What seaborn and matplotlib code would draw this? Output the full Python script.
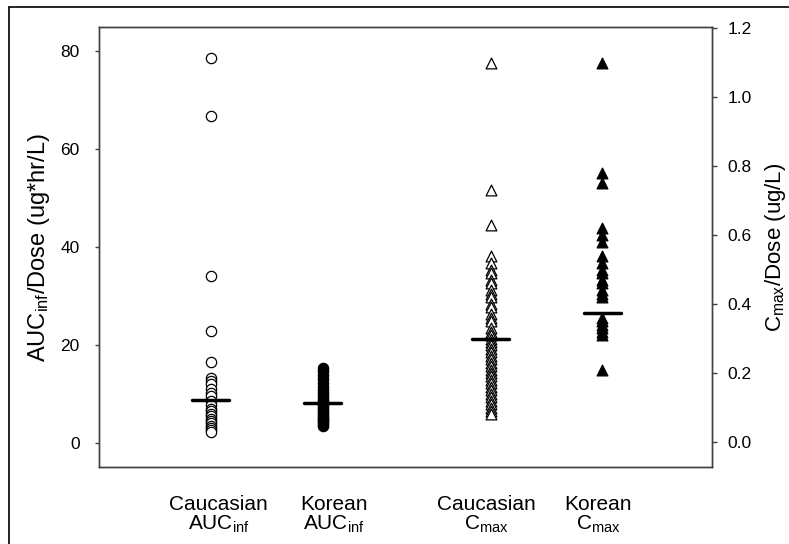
# plot.py
# Dose-normalised AUC and Cmax, Caucasian vs Korean subjects (dot plot with centre lines)

import matplotlib
matplotlib.use('Agg')
import pandas as pd
import matplotlib.pyplot as plt
from matplotlib.lines import Line2D
import seaborn as sns

# data
cauc_auc = [78.6, 66.7, 34.1, 22.9, 16.5, 13.2, 12.6, 12.0, 11.0, 10.2, 9.5, 8.5,
            7.8, 7.0, 6.5, 6.0, 5.5, 5.0, 4.5, 4.0, 3.5, 3.0, 2.6, 2.3]
kor_auc = [15.3, 14.6, 13.8, 13.0, 12.2, 11.5, 10.8, 10.2, 9.6, 9.0, 8.5, 8.0,
           7.5, 7.0, 6.6, 6.2, 5.8, 5.4, 5.0, 4.6, 4.2, 3.8, 3.4]
cauc_cmax = [1.10, 0.73, 0.63, 0.54, 0.52, 0.50, 0.49, 0.47, 0.46, 0.44, 0.43, 0.42,
             0.40, 0.39, 0.37, 0.36, 0.35, 0.33, 0.32, 0.31, 0.30, 0.29, 0.28, 0.27,
             0.26, 0.25, 0.24, 0.23, 0.22, 0.21, 0.20, 0.19, 0.18, 0.17, 0.16, 0.15,
             0.14, 0.13, 0.12, 0.11, 0.10, 0.09, 0.08]
kor_cmax = [1.10, 0.78, 0.75, 0.62, 0.60, 0.58, 0.54, 0.52, 0.50, 0.49, 0.47, 0.46,
            0.44, 0.43, 0.42, 0.36, 0.35, 0.34, 0.33, 0.32, 0.31, 0.21]

# centre line value per group
auc_centre = [8.8, 8.2]
cmax_centre = [0.30, 0.374]

group_x = [1, 2, 3.5, 4.5]
tick_x = [1.07, 2.1, 3.46, 4.46]
tick_labels = ['Caucasian\nAUC$_{\\mathregular{inf}}$', 'Korean\nAUC$_{\\mathregular{inf}}$',
               'Caucasian\nC$_{\\mathregular{max}}$', 'Korean\nC$_{\\mathregular{max}}$']

auc_df = pd.DataFrame({
    'x': [group_x[0]] * len(cauc_auc) + [group_x[1]] * len(kor_auc),
    'value': cauc_auc + kor_auc,
    'group': ['Caucasian'] * len(cauc_auc) + ['Korean'] * len(kor_auc),
})
cmax_df = pd.DataFrame({
    'x': [group_x[2]] * len(cauc_cmax) + [group_x[3]] * len(kor_cmax),
    'value': cauc_cmax + kor_cmax,
    'group': ['Caucasian'] * len(cauc_cmax) + ['Korean'] * len(kor_cmax),
})

sns.set_style('white')
plt.rcParams['font.family'] = ['Liberation Sans', 'DejaVu Sans']
plt.rcParams['mathtext.fontset'] = 'custom'
plt.rcParams['mathtext.rm'] = 'Liberation Sans'
plt.rcParams['mathtext.it'] = 'Liberation Sans'
plt.rcParams['text.color'] = 'black'
plt.rcParams['axes.labelcolor'] = 'black'
plt.rcParams['xtick.color'] = 'black'
plt.rcParams['ytick.color'] = 'black'

fig = plt.figure(figsize=(7.89, 5.44), dpi=100)
ax = fig.add_axes([0.1255, 0.1415, 0.7769, 0.8089])
ax2 = ax.twinx()

# left axis: AUC
sns.scatterplot(data=auc_df[auc_df['group'] == 'Caucasian'], x='x', y='value', ax=ax,
                marker='o', s=55, facecolor='white', edgecolor='black', linewidth=0.9,
                legend=False)
sns.scatterplot(data=auc_df[auc_df['group'] == 'Korean'], x='x', y='value', ax=ax,
                marker='o', s=55, color='black', edgecolor='black', linewidth=0.9,
                legend=False)

# right axis: Cmax
sns.scatterplot(data=cmax_df[cmax_df['group'] == 'Caucasian'], x='x', y='value', ax=ax2,
                marker='^', s=60, facecolor='white', edgecolor='black', linewidth=0.9,
                legend=False)
sns.scatterplot(data=cmax_df[cmax_df['group'] == 'Korean'], x='x', y='value', ax=ax2,
                marker='^', s=60, color='black', edgecolor='black', linewidth=0.9,
                legend=False)

half = 0.165
for xv, cv in zip(group_x[:2], auc_centre):
    ax.plot([xv - half, xv + half], [cv, cv], color='black', lw=2.5, zorder=5)
for xv, cv in zip(group_x[2:], cmax_centre):
    ax2.plot([xv - half, xv + half], [cv, cv], color='black', lw=2.5, zorder=5)

ax.set_xlim(0, 5.48)
ax.set_ylim(-4.9, 84.9)
ax2.set_ylim(-0.0725, 1.203)

ax.set_yticks([0, 20, 40, 60, 80])
ax2.set_yticks([0.0, 0.2, 0.4, 0.6, 0.8, 1.0, 1.2])
ax2.set_yticklabels([f'{v:.1f}' for v in [0.0, 0.2, 0.4, 0.6, 0.8, 1.0, 1.2]])

ax.set_xticks(tick_x)
ax.set_xticklabels(tick_labels, fontsize=15, linespacing=1.0)
ax.tick_params(axis='x', length=0, pad=20)
ax.tick_params(axis='y', direction='out', length=3, width=1, color='#404040',
               labelsize=12.5, pad=11, left=True)
ax2.tick_params(axis='y', direction='out', length=3.5, width=1, color='#404040',
                labelsize=12.5, pad=7.5, right=True)

ax.set_xlabel('')
ax.set_ylabel('AUC$_{\\mathregular{inf}}$/Dose (ug*hr/L)', fontsize=17, labelpad=6)
ax2.set_xlabel('')
ax2.set_ylabel('C$_{\\mathregular{max}}$/Dose (ug/L)', fontsize=16, labelpad=8)

for a in (ax, ax2):
    for sp in a.spines.values():
        sp.set_color('#404040')
        sp.set_linewidth(1.0)

# outer frame of the figure (top and left edges only visible)
fig.add_artist(Line2D([9 / 789, 1.0], [1 - 7 / 544, 1 - 7 / 544], color='black', lw=1.2))
fig.add_artist(Line2D([9 / 789, 9 / 789], [0.0, 1 - 7 / 544], color='black', lw=1.2))

fig.savefig('out.png', dpi=100)
